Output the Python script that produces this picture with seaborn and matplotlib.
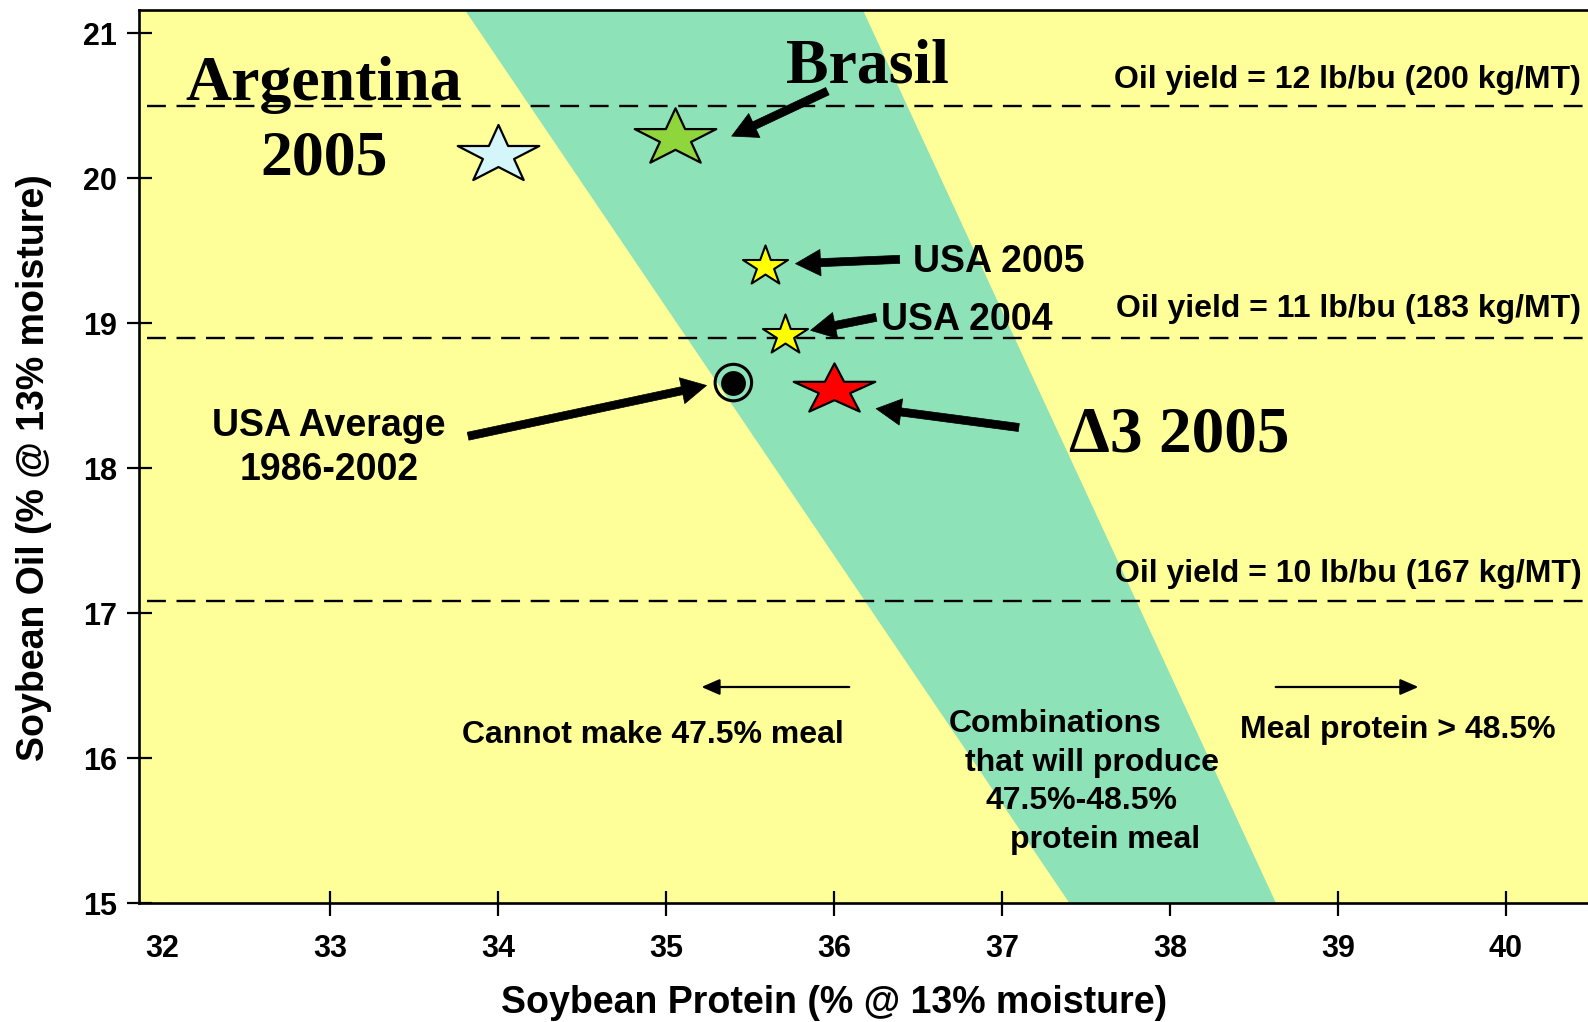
import matplotlib
matplotlib.use("Agg")
import matplotlib.pyplot as plt
from matplotlib.path import Path
import seaborn as sns
import numpy as np
import pandas as pd

sns.set_style("ticks")
plt.rcParams["font.family"] = ["Liberation Sans", "DejaVu Sans"]
plt.rcParams["font.weight"] = "bold"
for key in ["text.color", "axes.labelcolor", "xtick.color", "ytick.color",
            "axes.edgecolor"]:
    plt.rcParams[key] = "black"
SERIF = ["Liberation Serif", "DejaVu Serif"]

# ---------------- data ----------------
x_ticks = [32, 33, 34, 35, 36, 37, 38, 39, 40]
y_ticks = [15, 16, 17, 18, 19, 20, 21]
x_range = [31.86, 40.49]
y_range = [15.0, 21.16]

# band of protein/oil combinations giving 47.5%-48.5% meal
band_y = [21.16, 15.0]
band_left = [33.80, 37.40]
band_right = [36.17, 38.63]

# oil-yield reference lines
oil_levels = [20.50, 18.90, 17.08]
oil_labels = ["Oil yield = 12 lb/bu (200 kg/MT)",
              "Oil yield = 11 lb/bu (183 kg/MT)",
              "Oil yield = 10 lb/bu (167 kg/MT)"]

# samples
big_star_names = ["Argentina 2005", "Brasil", "Δ3 2005"]
big_star_protein = [34.00, 35.05, 36.00]
big_star_oil = [20.18, 20.30, 18.56]
big_star_colors = ["#d4f6fb", "#8fd63c", "#ff0000"]
big_star_squash = [0.71, 0.70, 0.62]

small_star_names = ["USA 2005", "USA 2004"]
small_star_protein = [35.59, 35.71]
small_star_oil = [19.41, 18.93]

avg_name = ["USA Average 1986-2002"]
avg_protein = [35.40]
avg_oil = [18.59]


def star_marker(squash):
    ang = np.pi / 2 + np.arange(10) * np.pi / 5
    rad = np.where(np.arange(10) % 2 == 0, 1.0, 0.381966)
    xs = rad * np.cos(ang)
    ys = rad * np.sin(ang) * squash
    ys = ys - (ys.max() + ys.min()) / 2
    verts = np.column_stack([np.append(xs, xs[0]), np.append(ys, ys[0])])
    codes = [Path.MOVETO] + [Path.LINETO] * 9 + [Path.CLOSEPOLY]
    return Path(verts, codes)


# ---------------- figure ----------------
W, H = 1588, 1022
fig = plt.figure(figsize=(W / 100, H / 100), dpi=100)
ax = fig.add_axes([139 / W, 119 / H, 1 - 139 / W, 893 / H])
ax.set_facecolor("#ffff99")

ax.fill_betweenx(band_y, band_left, band_right, color="#8ee2b8", lw=0, zorder=1)

ax.hlines(oil_levels, x_range[0] + 0.05, x_range[1], colors="black",
          linewidth=1.7, linestyles=(0, (8, 4.5)), zorder=2)

df_big = pd.DataFrame({"name": big_star_names, "protein": big_star_protein,
                       "oil": big_star_oil, "color": big_star_colors,
                       "squash": big_star_squash})
for _, row in df_big.iterrows():
    sns.scatterplot(data=df_big[df_big["name"] == row["name"]], x="protein", y="oil",
                    color=row["color"], marker=star_marker(row["squash"]), s=3450,
                    edgecolor="black", linewidth=1.6, legend=False, ax=ax, zorder=5)

df_small = pd.DataFrame({"name": small_star_names, "protein": small_star_protein,
                         "oil": small_star_oil})
sns.scatterplot(data=df_small, x="protein", y="oil", color="#ffff00",
                marker=star_marker(0.89), s=1050, edgecolor="black", linewidth=1.5,
                legend=False, ax=ax, zorder=5)

df_avg = pd.DataFrame({"name": avg_name, "protein": avg_protein, "oil": avg_oil})
sns.scatterplot(data=df_avg, x="protein", y="oil", marker="o", s=690,
                facecolor="none", edgecolor="black", linewidth=2.2,
                legend=False, ax=ax, zorder=5)
sns.scatterplot(data=df_avg, x="protein", y="oil", marker="o", s=320,
                color="black", edgecolor="black", linewidth=0,
                legend=False, ax=ax, zorder=6)

# ---------------- axes ----------------
ax.set_xlim(*x_range)
ax.set_ylim(*y_range)
ax.set_xticks(x_ticks)
ax.set_yticks(y_ticks)
ax.set_xticklabels([str(v) for v in x_ticks])
ax.set_yticklabels([str(v) for v in y_ticks])
ax.tick_params(axis="both", direction="inout", length=18, width=1.6,
               labelsize=22, colors="black")
ax.tick_params(axis="x", pad=13)
ax.tick_params(axis="y", pad=7)
first = ax.xaxis.get_major_ticks()[0]
first.tick1line.set_visible(False)
for lab in ax.get_xticklabels() + ax.get_yticklabels():
    lab.set_fontweight("bold")

for side in ["left", "bottom", "top"]:
    ax.spines[side].set_linewidth(1.9)
    ax.spines[side].set_color("black")
ax.spines["right"].set_visible(False)

ax.set_xlabel("Soybean Protein (% @ 13% moisture)", fontsize=27, fontweight="bold")
ax.set_ylabel("Soybean Oil (% @ 13% moisture)", fontsize=27, fontweight="bold")
ax.xaxis.label.set_va("center")
ax.yaxis.label.set_va("center")
ax.xaxis.set_label_coords(0.48, -0.112)
ax.yaxis.set_label_coords(-0.0725, 0.488)

# ---------------- annotations ----------------
ax.text(32.96, 20.645, "Argentina", family=SERIF, fontsize=46, fontweight="bold",
        ha="center", va="center", zorder=7)
ax.text(32.96, 20.13, "2005", family=SERIF, fontsize=46, fontweight="bold",
        ha="center", va="center", zorder=7)
ax.text(36.20, 20.765, "Brasil", family=SERIF, fontsize=46, fontweight="bold",
        ha="center", va="center", zorder=7)
ax.text(37.40, 18.225, "Δ3 2005", family=SERIF, fontsize=47, fontweight="bold",
        ha="left", va="center", zorder=7)

ax.text(36.47, 19.42, "USA 2005", fontsize=27, ha="left", va="center", zorder=7)
ax.text(36.28, 19.02, "USA 2004", fontsize=27, ha="left", va="center", zorder=7)
ax.text(32.99, 18.29, "USA Average", fontsize=27, ha="center", va="center", zorder=7)
ax.text(32.99, 17.985, "1986-2002", fontsize=27, ha="center", va="center", zorder=7)

for lvl_y, txt in zip([20.68, 19.10, 17.27], oil_labels):
    ax.text(40.45, lvl_y, txt, fontsize=23, ha="right", va="center", zorder=7)

ax.text(34.92, 16.16, "Cannot make 47.5% meal", fontsize=23, ha="center",
        va="center", zorder=7)
ax.text(39.36, 16.19, "Meal protein > 48.5%", fontsize=23, ha="center",
        va="center", zorder=7)
comb_lines = ["Combinations", "that will produce", "47.5%-48.5%", "protein meal"]
comb_x = [36.68, 36.78, 36.90, 37.05]
comb_y = [16.235, 15.965, 15.705, 15.435]
for t, cx, cy in zip(comb_lines, comb_x, comb_y):
    ax.text(cx, cy, t, fontsize=23, ha="left", va="center", zorder=7)

thin = dict(arrowstyle="-|>,head_length=0.55,head_width=0.24", color="black",
            lw=1.6, shrinkA=0, shrinkB=0, mutation_scale=20)
ax.annotate("", xy=(35.21, 16.49), xytext=(36.09, 16.49), arrowprops=thin, zorder=7)
ax.annotate("", xy=(39.48, 16.49), xytext=(38.63, 16.49), arrowprops=thin, zorder=7)

thick = dict(arrowstyle="simple,head_length=1.8,head_width=1.9,tail_width=0.58",
             fc="black", ec="black", lw=0.5, shrinkA=0, shrinkB=0,
             mutation_scale=10)
arrows = [((35.96, 20.60), (35.39, 20.29)),
          ((36.39, 19.44), (35.77, 19.41)),
          ((36.25, 19.04), (35.86, 18.95)),
          ((33.82, 18.22), (35.24, 18.57)),
          ((37.10, 18.28), (36.25, 18.41))]
for tail, head in arrows:
    ax.annotate("", xy=head, xytext=tail, arrowprops=thick, zorder=7)

fig.savefig("out.png", dpi=100)
